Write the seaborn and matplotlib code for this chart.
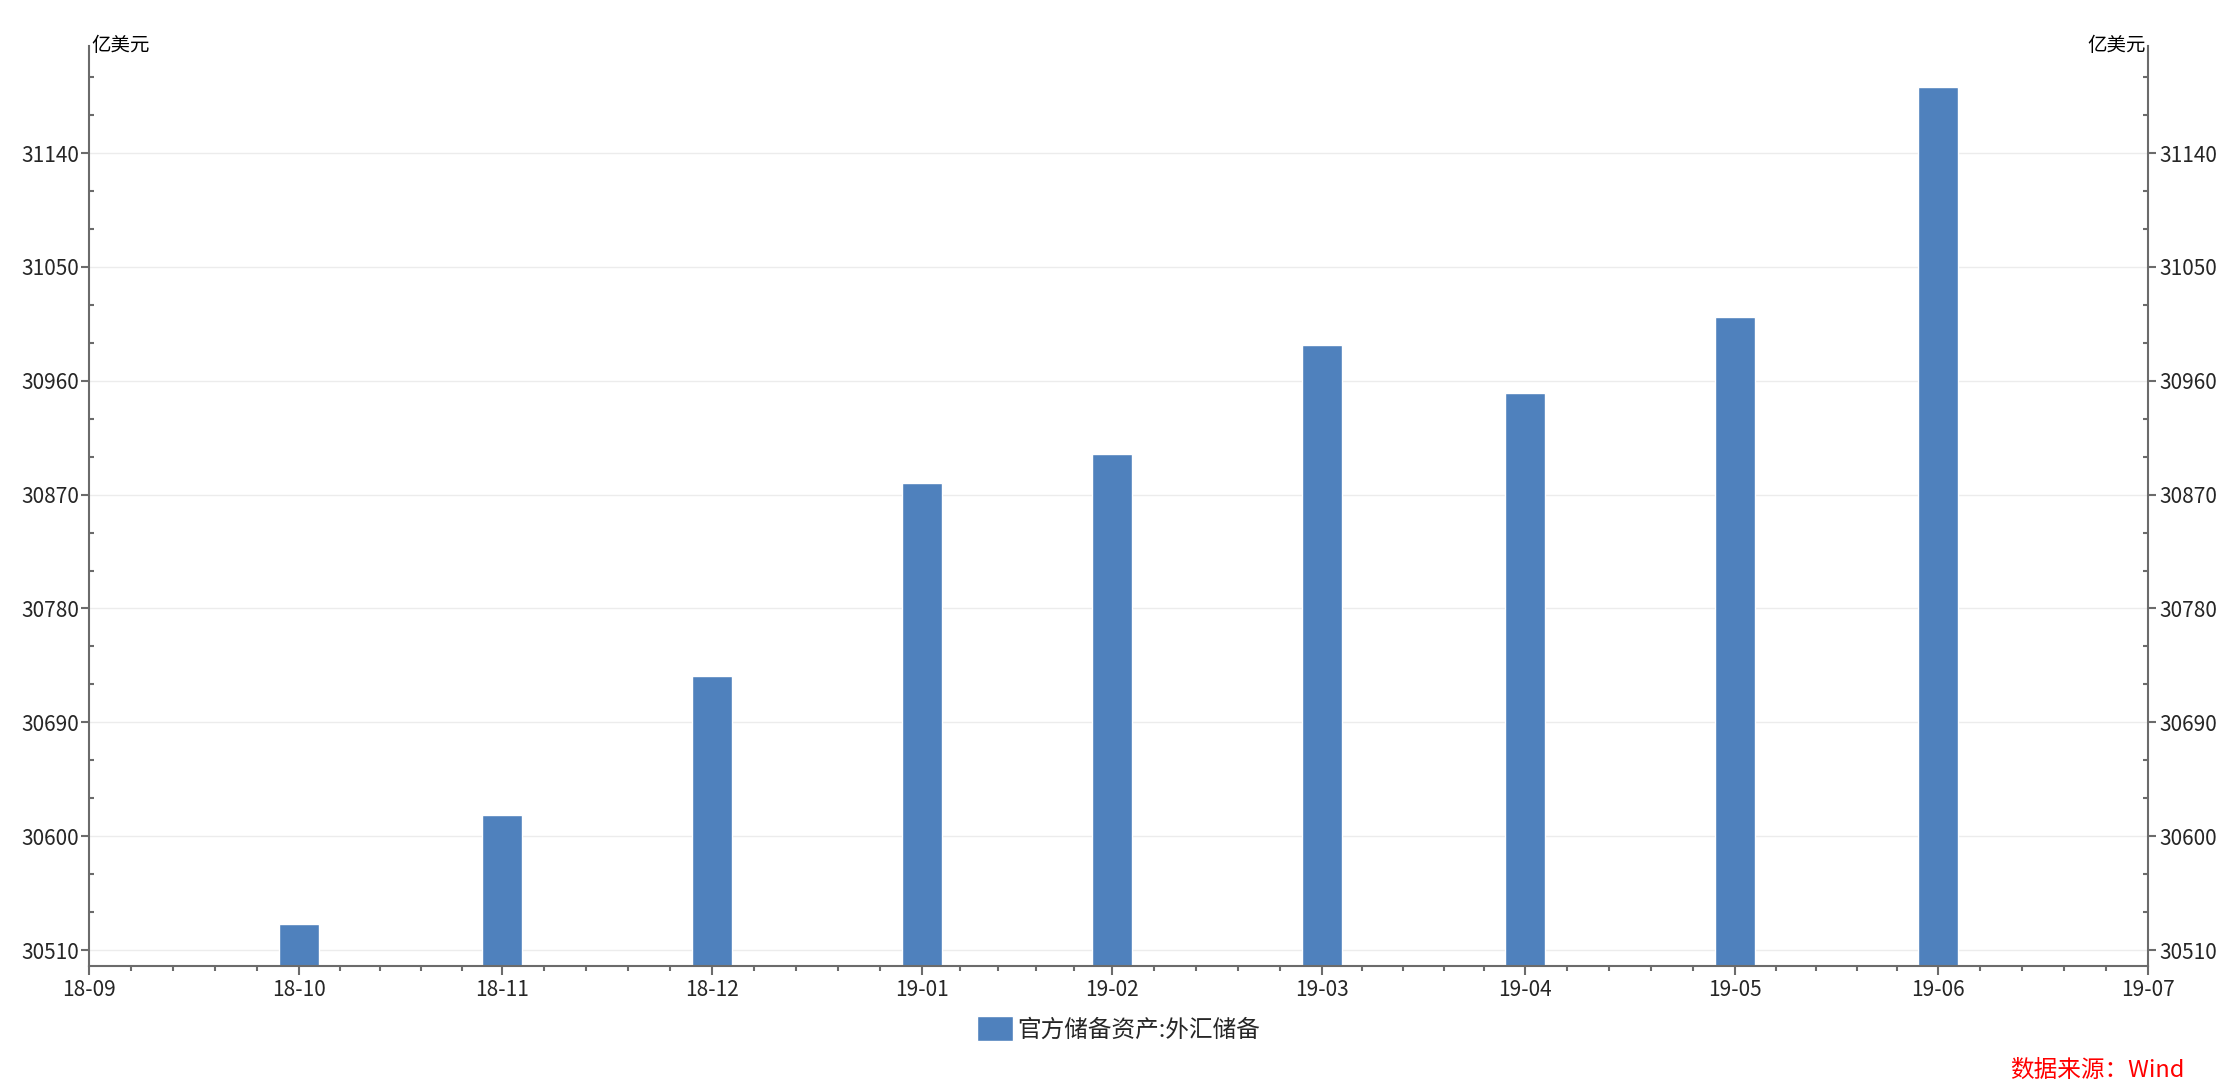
import pandas as pd
import numpy as np
import matplotlib
matplotlib.use('Agg')
import matplotlib.pyplot as plt
import matplotlib.dates as mdates
import matplotlib.ticker as mticker
import seaborn as sns

# data: China official reserve assets, FX reserves (100 mn USD), month-end dates
months = ['2018-10-31', '2018-11-30', '2018-12-31', '2019-01-31', '2019-02-28',
          '2019-03-31', '2019-04-30', '2019-05-31', '2019-06-30']
fx_reserves = [30531, 30617, 30727, 30879, 30902, 30988, 30950, 31010, 31192]
series_name = '官方储备资产:外汇储备'
unit = '亿美元'
source = '数据来源：Wind'

sns.set_theme(style='white')
plt.rcParams['font.family'] = ['Noto Sans CJK SC', 'DejaVu Sans']
plt.rcParams['axes.unicode_minus'] = False

bar_color = '#4F81BD'
axis_color = '#6b6b6b'

df = pd.DataFrame({'date': pd.to_datetime(months), 'value': fx_reserves})
df['x'] = mdates.date2num(df['date'])

fig = plt.figure(figsize=(22.38, 10.87), dpi=100)
ax = fig.add_axes([0.0398, 0.1113, 0.9200, 0.8464])

# bar width as fraction of the smallest gap (Jan->Feb, 28 days)
sns.barplot(data=df, x='x', y='value', native_scale=True, color=bar_color,
            saturation=1, width=5.9 / 28, errorbar=None, ax=ax, label=series_name)

# x axis: month ends, 5 subdivisions each
month_ends = mdates.date2num(pd.date_range('2018-09-30', '2019-07-31', freq='ME'))
minor_x = np.concatenate([np.linspace(a, b, 6)[1:-1] for a, b in zip(month_ends[:-1], month_ends[1:])])
ax.set_xlim(month_ends[0], month_ends[-1])
ax.set_ylim(30497.4, 31224.6)
ax.xaxis.set_major_locator(mticker.FixedLocator(month_ends))
ax.xaxis.set_major_formatter(mdates.DateFormatter('%y-%m'))
ax.xaxis.set_minor_locator(mticker.FixedLocator(minor_x))

yticks = np.arange(30510, 31141, 90)
ax.yaxis.set_major_locator(mticker.FixedLocator(yticks))
ax.yaxis.set_minor_locator(mticker.MultipleLocator(30))
ax.yaxis.set_major_formatter(mticker.FormatStrFormatter('%d'))

ax.grid(axis='y', which='major', color='#ececec', linewidth=1)
ax.set_axisbelow(True)
ax.set_xlabel('')
ax.set_ylabel('')

for s in ['top', 'right']:
    ax.spines[s].set_visible(False)
for s in ['left', 'bottom']:
    ax.spines[s].set_color(axis_color)
    ax.spines[s].set_linewidth(1.5)

ax.tick_params(axis='x', which='major', direction='out', length=6.5, width=1.5,
               color=axis_color, labelsize=15, pad=3, bottom=True)
ax.tick_params(axis='x', which='minor', direction='out', length=3.5, width=1.5,
               color=axis_color, bottom=True)
ax.tick_params(axis='y', which='major', direction='out', length=6, width=1.5,
               color=axis_color, labelsize=15, pad=1, left=True)
ax.tick_params(axis='y', which='minor', direction='in', length=3.5, width=1.5,
               color=axis_color, left=True)

# right axis mirrors the left
ax2 = ax.twinx()
ax2.set_ylim(ax.get_ylim())
ax2.yaxis.set_major_locator(mticker.FixedLocator(yticks))
ax2.yaxis.set_minor_locator(mticker.MultipleLocator(30))
ax2.yaxis.set_major_formatter(mticker.FormatStrFormatter('%d'))
ax2.grid(False)
for s in ['top', 'left', 'bottom']:
    ax2.spines[s].set_visible(False)
ax2.spines['right'].set_color(axis_color)
ax2.spines['right'].set_linewidth(1.5)
ax2.tick_params(axis='y', which='major', direction='out', length=6, width=1.5,
                color=axis_color, labelsize=15, pad=2, right=True)
ax2.tick_params(axis='y', which='minor', direction='in', length=3.5, width=1.5,
                color=axis_color, right=True)

ax.text(0.001, 1.0, unit, transform=ax.transAxes, ha='left', va='center', fontsize=14, color='black')
ax.text(0.999, 1.0, unit, transform=ax.transAxes, ha='right', va='center', fontsize=14, color='black')

handles, labels = ax.get_legend_handles_labels()
fig.legend(handles, labels, loc='center', bbox_to_anchor=(0.5, 0.0534), frameon=False,
           fontsize=17, handlelength=1.5, handleheight=1.25, handletextpad=0.2)
if ax.get_legend() is not None:
    ax.get_legend().remove()

fig.text(0.976, 0.0156, source, ha='right', va='center', fontsize=17, color='red', style='italic')

fig.savefig('out.png', dpi=100)
